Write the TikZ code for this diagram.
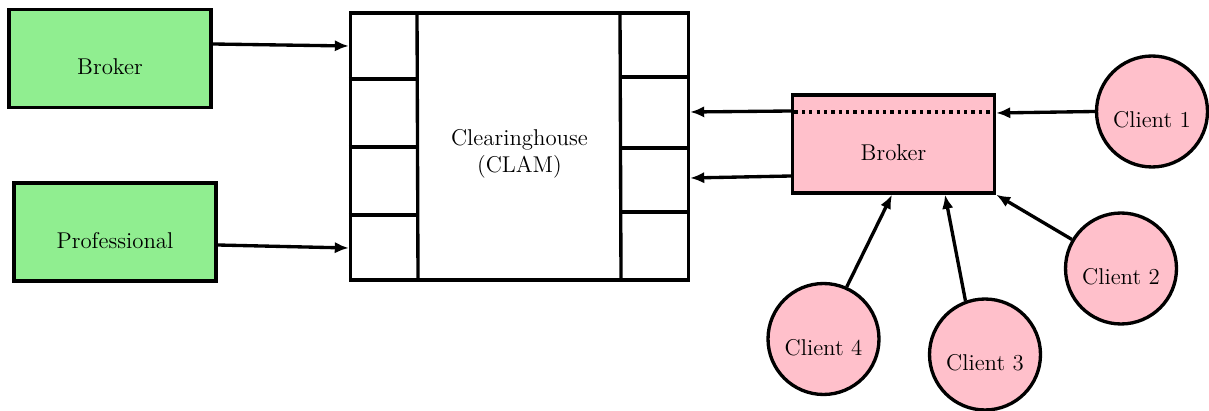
\documentclass[tikz,border=0pt]{standalone}
\usetikzlibrary{arrows.meta}

\definecolor{partygreen}{RGB}{144,238,144}
\definecolor{partypink}{RGB}{255,192,203}

\begin{document}
\begin{tikzpicture}[x=0.02cm,y=-0.02cm,line width=1.9pt,>={Latex[length=8pt,width=6.5pt]},
	every node/.style={font=\fontsize{13}{15.5}\selectfont},
	party/.style={draw,rectangle,minimum width=4.04cm,minimum height=1.96cm,inner sep=0pt,text height=18.5pt,text depth=0pt},
	client/.style={draw,circle,fill=partypink,minimum size=2.22cm,inner sep=0pt,text height=18.5pt,text depth=0pt}]

\useasboundingbox (0,0) rectangle (1209,411);

\node[party,fill=partygreen]	(broker)	at (110,58.5)	{Broker};
\node[party,fill=partygreen]	(prof)		at (115,232)	{Professional};
\node[party,fill=partypink]	(pbroker)	at (893.5,144)	{Broker};
\node[draw,minimum width=6.76cm,minimum height=5.34cm,
	label={[align=center,yshift=-4pt]center:Clearinghouse\\(CLAM)}]	(clam)	at (519.5,146.5)	{};

\node[client]	(c1)	at (1152,111.5)	{Client 1};
\node[client]	(c2)	at (1121,268.5)	{Client 2};
\node[client]	(c3)	at (985,354.5)	{Client 3};
\node[client]	(c4)	at (823.5,339)	{Client 4};

% slots of the clearinghouse
\draw (clam.north -| 417,0) -- (clam.south -| 418,0);
\draw (clam.north -| 620,0) -- (clam.south -| 621,0);
\foreach \y in {79,147,215} \draw (clam.west |- 0,\y) -- (418,\y);
\foreach \y in {77,148,212} \draw (620,\y) -- (clam.east |- 0,\y);

% dotted line in the broker
\draw[dash pattern=on 1.9pt off 2.3pt] ([xshift=2pt]pbroker.west |- 0,112) -- ([xshift=-2pt]pbroker.east |- 0,112);

	\path[->] (broker.east |- 0,44)		edge	(clam.west |- 0,46)
				(prof.east |- 0,245)		edge	(clam.west |- 0,248)
				(pbroker.west |- 0,111)		edge	(clam.east |- 0,112)
				(pbroker.west |- 0,176)		edge	(clam.east |- 0,178)
				(c1.west)					edge	(pbroker.east |- 0,113)
				(c2)						edge	(pbroker.south east)
				(c3.110)					edge	(pbroker.south -| 945,0)
				(c4.66)						edge	(pbroker.south -| 892,0);

\end{tikzpicture}
\end{document}
